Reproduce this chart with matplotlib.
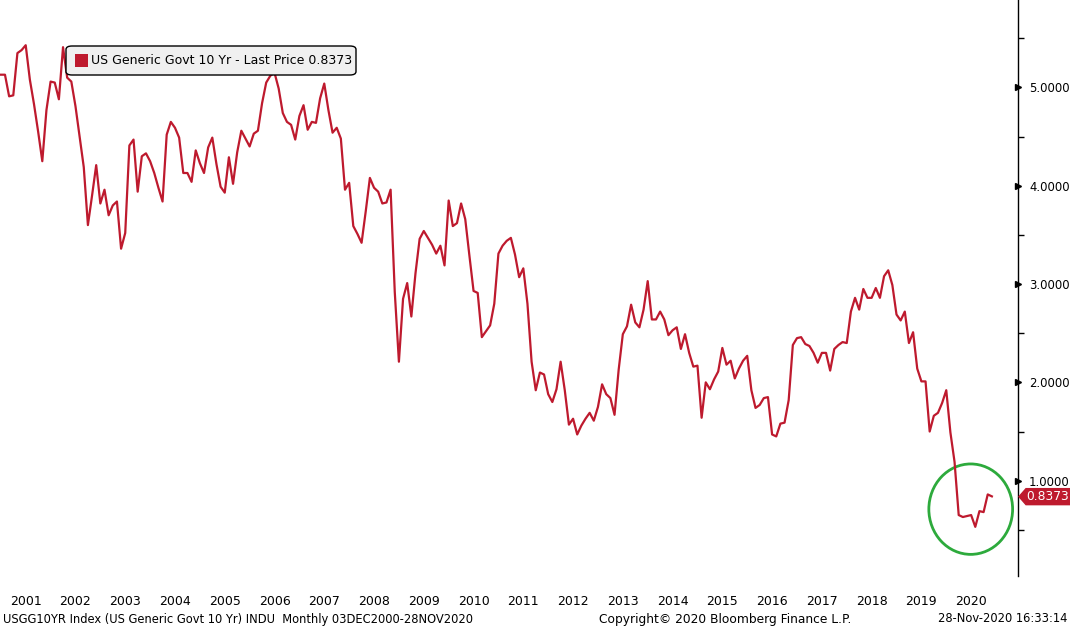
import numpy as np
import matplotlib
matplotlib.use("Agg")
import matplotlib.pyplot as plt
from matplotlib.patches import Ellipse, FancyBboxPatch, Polygon

# Monthly USGG10YR values, Dec 2000 .. Nov 2020
yields = [
    5.13,
    5.13, 4.91, 4.92, 5.35, 5.38, 5.43, 5.08, 4.83, 4.55, 4.25, 4.77, 5.06,  # 2001
    5.05, 4.88, 5.41, 5.10, 5.06, 4.81, 4.50, 4.19, 3.60, 3.90, 4.21, 3.82,  # 2002
    3.96, 3.70, 3.80, 3.84, 3.36, 3.52, 4.41, 4.47, 3.94, 4.30, 4.33, 4.25,  # 2003
    4.13, 3.98, 3.84, 4.52, 4.65, 4.59, 4.49, 4.13, 4.13, 4.04, 4.36, 4.23,  # 2004
    4.13, 4.39, 4.49, 4.22, 3.99, 3.93, 4.29, 4.02, 4.34, 4.56, 4.48, 4.40,  # 2005
    4.53, 4.56, 4.84, 5.05, 5.12, 5.15, 4.99, 4.74, 4.65, 4.62, 4.47, 4.71,  # 2006
    4.82, 4.57, 4.65, 4.64, 4.89, 5.04, 4.77, 4.54, 4.59, 4.48, 3.96, 4.03,  # 2007
    3.59, 3.51, 3.42, 3.74, 4.08, 3.98, 3.94, 3.82, 3.83, 3.96, 2.92, 2.21,  # 2008
    2.85, 3.01, 2.67, 3.11, 3.46, 3.54, 3.47, 3.40, 3.31, 3.39, 3.19, 3.85,  # 2009
    3.59, 3.62, 3.82, 3.66, 3.29, 2.93, 2.91, 2.46, 2.52, 2.58, 2.80, 3.31,  # 2010
    3.39, 3.44, 3.47, 3.30, 3.07, 3.16, 2.80, 2.21, 1.92, 2.10, 2.08, 1.88,  # 2011
    1.80, 1.93, 2.21, 1.92, 1.57, 1.63, 1.47, 1.56, 1.63, 1.69, 1.61, 1.75,  # 2012
    1.98, 1.88, 1.84, 1.67, 2.13, 2.49, 2.57, 2.79, 2.61, 2.56, 2.74, 3.03,  # 2013
    2.64, 2.64, 2.72, 2.64, 2.48, 2.53, 2.56, 2.34, 2.49, 2.30, 2.16, 2.17,  # 2014
    1.64, 2.00, 1.93, 2.03, 2.11, 2.35, 2.18, 2.22, 2.04, 2.14, 2.22, 2.27,  # 2015
    1.92, 1.74, 1.77, 1.84, 1.85, 1.47, 1.45, 1.58, 1.59, 1.82, 2.38, 2.45,  # 2016
    2.46, 2.39, 2.37, 2.30, 2.20, 2.30, 2.30, 2.12, 2.34, 2.38, 2.41, 2.40,  # 2017
    2.72, 2.86, 2.74, 2.95, 2.86, 2.86, 2.96, 2.86, 3.08, 3.14, 2.99, 2.69,  # 2018
    2.63, 2.72, 2.40, 2.51, 2.14, 2.01, 2.01, 1.50, 1.66, 1.69, 1.79, 1.92,  # 2019
    1.49, 1.19, 0.65, 0.63, 0.64, 0.65, 0.53, 0.69, 0.68, 0.86, 0.84,        # 2020
]
years = list(range(2001, 2021))
y_ticks = [1.0, 2.0, 3.0, 4.0, 5.0]
last_price = 0.8373

RED = "#BE1A2E"
GREEN = "#2DAA3C"

W, H = 1070, 627
fig = plt.figure(figsize=(W / 100, H / 100), dpi=100)
AX_W, AX_H = 1018, 576
ax = fig.add_axes([0, 1 - AX_H / H, AX_W / W, AX_H / H])

x = np.arange(len(yields))
ax.plot(x, yields, color=RED, lw=1.6)

ax.set_xlim(-0.2, 245.3)
ax.set_ylim(0.03, 5.89)

# spines: only the right axis line
for s in ["top", "left", "bottom"]:
    ax.spines[s].set_visible(False)
ax.spines["right"].set_linewidth(1.0)

# x labels at mid-year
ax.set_xticks([12 * (yr - 2001) + 6 for yr in years])
ax.set_xticklabels([str(yr) for yr in years], fontsize=9)
ax.tick_params(axis="x", length=0, pad=14)

# right axis
ax.yaxis.tick_right()
ax.set_yticks(y_ticks)
ax.set_yticklabels([f"{v:.4f}" for v in y_ticks], fontsize=8.4)
ax.tick_params(axis="y", length=0, pad=8)
ax.set_yticks(np.arange(0.5, 5.6, 1.0), minor=True)
ax.tick_params(axis="y", which="minor", length=4, width=1, direction="out")
for v in y_ticks:
    ax.plot([1.0], [v], transform=ax.get_yaxis_transform(), marker=">",
            color="black", ms=4.5, clip_on=False)

# last price tag, drawn in figure pixels
fig.canvas.draw()
_, py = ax.transData.transform((0, last_price))
tag = Polygon([(1019, py), (1026, py + 8), (1070, py + 8), (1070, py - 8), (1026, py - 8)],
              closed=True, transform=None, fc=RED, ec=RED, zorder=10)
fig.patches.append(tag)
fig.text(1048 / W, py / H, f"{last_price:.4f}", fontsize=8.8, color="white",
         ha="center", va="center", zorder=11)

# legend box
ax.add_patch(FancyBboxPatch((66 / AX_W, 1 - 75 / AX_H), 290 / AX_W, 29 / AX_H,
                            boxstyle="round,pad=0,rounding_size=0.006", transform=ax.transAxes,
                            fc="#F0F0F0", ec="black", lw=1, zorder=5))
ax.add_patch(FancyBboxPatch((75 / AX_W, 1 - 67 / AX_H), 13 / AX_W, 13 / AX_H,
                            boxstyle="square,pad=0", transform=ax.transAxes,
                            fc=RED, ec="none", zorder=6))
ax.text(91 / AX_W, 1 - 61 / AX_H, "US Generic Govt 10 Yr - Last Price 0.8373",
        transform=ax.transAxes, fontsize=9, ha="left", va="center", zorder=6)

# green circle highlight
ax.add_patch(Ellipse((233.9, 0.71), 20.2, 0.92, fill=False, ec=GREEN, lw=2, clip_on=False))

# footer
fy = 1 - 619 / H
fig.text(3 / W, fy, "USGG10YR Index (US Generic Govt 10 Yr) INDU  Monthly 03DEC2000-28NOV2020",
         fontsize=8.3, ha="left", va="center")
fig.text(725 / W, fy, "Copyright\u00a9 2020 Bloomberg Finance L.P.",
         fontsize=8.8, ha="center", va="center")
fig.text(1067 / W, fy, "28-Nov-2020 16:33:14", fontsize=8.3, ha="right", va="center")

fig.savefig("out.png", dpi=100)
